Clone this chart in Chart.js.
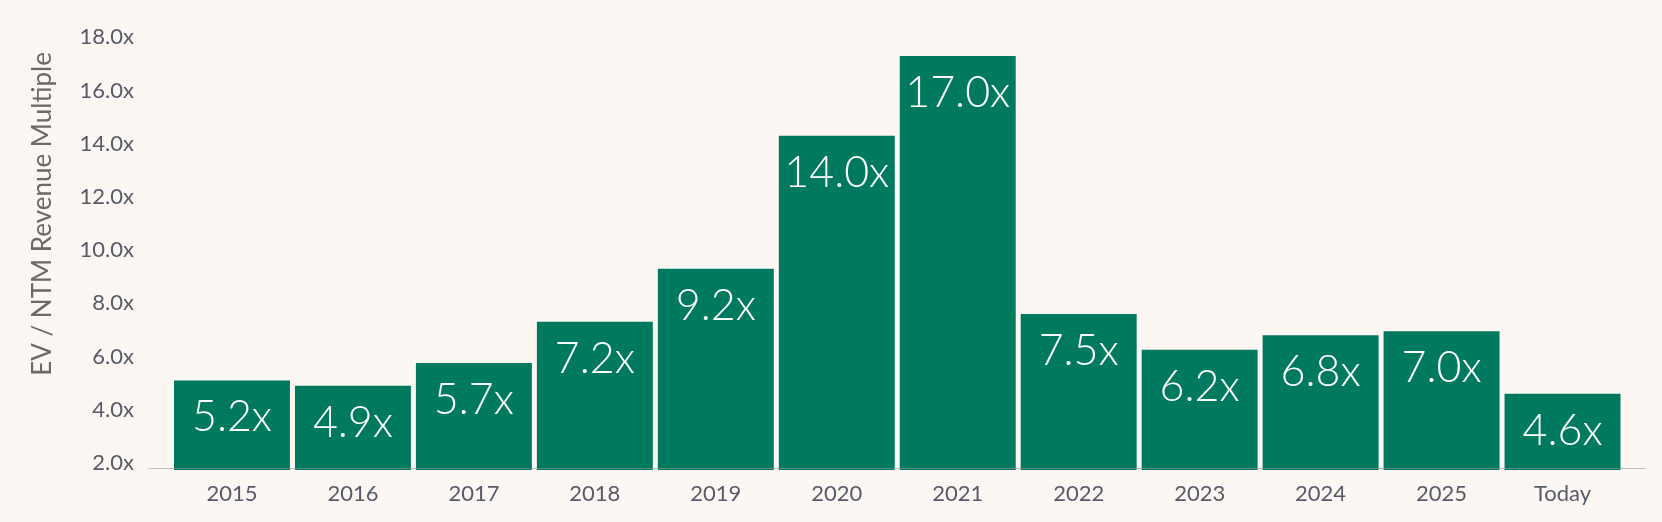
<!DOCTYPE html>
<html>
<head>
<meta charset="utf-8">
<script src="https://cdn.jsdelivr.net/npm/chart.js@4"></script>
<style>
  html, body { margin: 0; padding: 0; background: #fcf7f3; }
  #wrap { width: 1662px; height: 522px; position: relative; }
</style>
</head>
<body>
<div id="wrap"><canvas id="c"></canvas></div>
<script>
const categories = ['2015','2016','2017','2018','2019','2020','2021','2022','2023','2024','2025','Today'];
const multiples = [5.1, 4.9, 5.75, 7.3, 9.3, 14.3, 17.3, 7.6, 6.25, 6.8, 6.95, 4.6];
const valueLabels = ['5.2x','4.9x','5.7x','7.2x','9.2x','14.0x','17.0x','7.5x','6.2x','6.8x','7.0x','4.6x'];
const yTickValues = [2, 4, 6, 8, 10, 12, 14, 16, 18];
const yAxisTitle = 'EV / NTM Revenue Multiple';

const BG = '#fcf7f3';
const BAR = '#007a5f';
const TICK = '#575b68';

const bgPlugin = {
  id: 'bg',
  beforeDraw(chart) {
    const ctx = chart.ctx;
    ctx.save();
    ctx.fillStyle = BG;
    ctx.fillRect(0, 0, chart.width, chart.height);
    ctx.restore();
  }
};

const overlayPlugin = {
  id: 'overlay',
  afterDatasetsDraw(chart) {
    const ctx = chart.ctx;
    const area = chart.chartArea;
    const meta = chart.getDatasetMeta(0);
    ctx.save();
    // baseline
    ctx.strokeStyle = 'rgba(150,150,150,0.6)';
    ctx.lineWidth = 1;
    ctx.beginPath();
    ctx.moveTo(area.left - 23, area.bottom - 1.5);
    ctx.lineTo(area.right + 23, area.bottom - 1.5);
    ctx.stroke();
    // value labels
    ctx.fillStyle = '#ffffff';
    ctx.font = '300 43px Lato, "Open Sans", sans-serif';
    ctx.textAlign = 'center';
    ctx.textBaseline = 'alphabetic';
    meta.data.forEach((bar, i) => {
      ctx.fillText(valueLabels[i], bar.x, bar.y + 51);
    });
    // y axis title
    ctx.fillStyle = '#6a6a6a';
    ctx.font = '400 26px Lato, "Open Sans", sans-serif';
    ctx.translate(43, (area.top + area.bottom) / 2 - 37);
    ctx.rotate(-Math.PI / 2);
    ctx.textAlign = 'center';
    ctx.textBaseline = 'middle';
    ctx.fillText(yAxisTitle, 0, 0);
    ctx.restore();
  }
};

new Chart(document.getElementById('c'), {
  type: 'bar',
  data: {
    labels: categories,
    datasets: [{
      data: multiples,
      backgroundColor: BAR,
      borderWidth: 0,
      categoryPercentage: 1.0,
      barPercentage: 116 / 121
    }]
  },
  options: {
    responsive: true,
    maintainAspectRatio: false,
    animation: false,
    layout: { padding: { left: 0, right: 39, top: 32, bottom: 0 } },
    plugins: { legend: { display: false }, tooltip: { enabled: false } },
    scales: {
      x: {
        grid: { display: false, drawTicks: false },
        border: { display: false },
        ticks: { color: TICK, padding: 11, font: { family: 'Lato', size: 22 } },
        afterFit(scale) {
          scale.height = 52;
          scale.paddingLeft = 0;
          scale.paddingRight = 0;
        }
      },
      y: {
        min: 1.73,
        max: 18.2,
        grid: { display: false, drawTicks: false },
        border: { display: false },
        afterBuildTicks(scale) { scale.ticks = yTickValues.map(v => ({ value: v })); },
        ticks: {
          color: TICK,
          padding: 37.5,
          font: { family: 'Lato', size: 22 },
          callback: v => Number(v).toFixed(1) + 'x'
        },
        afterFit(scale) {
          scale.width = 171.5;
          scale.paddingTop = 0;
          scale.paddingBottom = 0;
        }
      }
    }
  },
  plugins: [bgPlugin, overlayPlugin]
});
</script>
</body>
</html>
